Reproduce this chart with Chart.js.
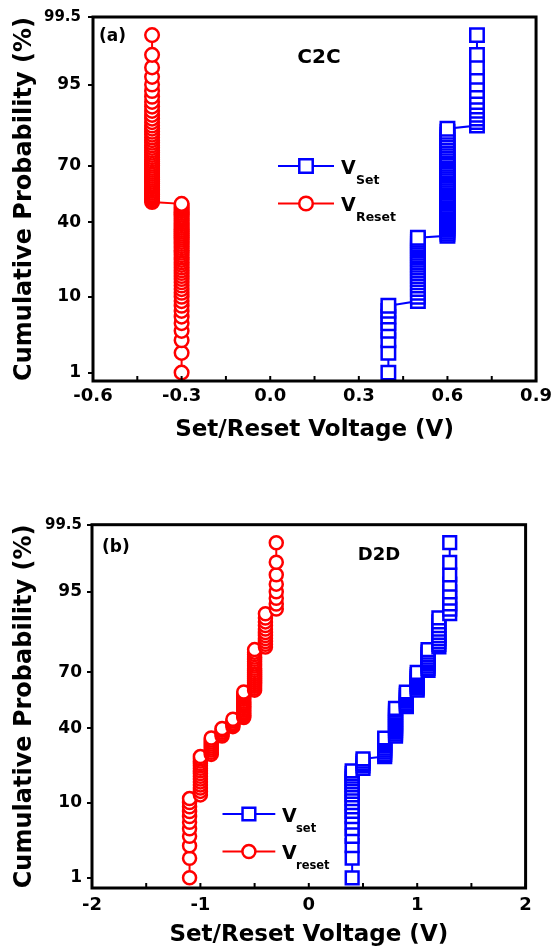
<!DOCTYPE html>
<html>
<head>
<meta charset="utf-8">
<script src="https://cdn.jsdelivr.net/npm/chart.js@4.4.1/dist/chart.umd.min.js"></script>
<style>
  html, body { margin: 0; padding: 0; background: #fff; }
  .panel { position: absolute; left: 0; width: 557px; height: 460px; }
  #panelA { top: 0; }
  #panelB { top: 490px; }
</style>
</head>
<body>
<div class="panel" id="panelA"><canvas id="chartA"></canvas></div>
<div class="panel" id="panelB"><canvas id="chartB"></canvas></div>
<script>
// cumulative probability (%) of each ranked point, same ranks for every series
const cumProb = [
  1,2,3,4,5,6,7,8,9,10,
  11,12,13,14,15,16,17,18,19,20,
  21,22,23,24,25,26,27,28,29,30,
  31,32,33,34,35,36,37,38,39,40,
  41,42,43,44,45,46,47,48,49,50,
  51,52,53,54,55,56,57,58,59,60,
  61,62,63,64,65,66,67,68,69,70,
  71,72,73,74,75,76,77,78,79,80,
  81,82,83,84,85,86,87,88,89,90,
  91,92,93,94,95,96,97,98,99
];

// (a) C2C - voltages (V), one per ranked point
const setA = [
  0.4,0.4,0.4,0.4,0.4,0.4,0.4,0.4,
  0.5,0.5,0.5,0.5,0.5,0.5,0.5,0.5,0.5,0.5,0.5,0.5,
  0.5,0.5,0.5,0.5,0.5,0.5,0.5,0.5,0.5,0.5,0.5,0.5,
  0.6,0.6,0.6,0.6,0.6,0.6,0.6,0.6,0.6,0.6,
  0.6,0.6,0.6,0.6,0.6,0.6,0.6,0.6,0.6,0.6,
  0.6,0.6,0.6,0.6,0.6,0.6,0.6,0.6,0.6,0.6,
  0.6,0.6,0.6,0.6,0.6,0.6,0.6,0.6,0.6,0.6,
  0.6,0.6,0.6,0.6,0.6,0.6,0.6,0.6,0.6,0.6,
  0.6,0.6,0.6,
  0.7,0.7,0.7,0.7,0.7,0.7,0.7,0.7,0.7,0.7,
  0.7,0.7,0.7,0.7
];
const resetA = [
  -0.3,-0.3,-0.3,-0.3,-0.3,-0.3,-0.3,-0.3,-0.3,-0.3,
  -0.3,-0.3,-0.3,-0.3,-0.3,-0.3,-0.3,-0.3,-0.3,-0.3,
  -0.3,-0.3,-0.3,-0.3,-0.3,-0.3,-0.3,-0.3,-0.3,-0.3,
  -0.3,-0.3,-0.3,-0.3,-0.3,-0.3,-0.3,-0.3,-0.3,-0.3,
  -0.3,-0.3,-0.3,-0.3,-0.3,-0.3,-0.3,-0.3,-0.3,-0.3,
  -0.4,-0.4,-0.4,-0.4,-0.4,-0.4,-0.4,-0.4,-0.4,-0.4,
  -0.4,-0.4,-0.4,-0.4,-0.4,-0.4,-0.4,-0.4,-0.4,-0.4,
  -0.4,-0.4,-0.4,-0.4,-0.4,-0.4,-0.4,-0.4,-0.4,-0.4,
  -0.4,-0.4,-0.4,-0.4,-0.4,-0.4,-0.4,-0.4,-0.4,-0.4,
  -0.4,-0.4,-0.4,-0.4,-0.4,-0.4,-0.4,-0.4,-0.4
];

// (b) D2D
const setB = [
  0.4,0.4,0.4,0.4,0.4,0.4,0.4,0.4,0.4,0.4,
  0.4,0.4,0.4,0.4,0.4,0.4,0.4,0.4,0.4,0.4,
  0.5,0.5,0.5,0.5,0.5,
  0.7,0.7,0.7,0.7,0.7,0.7,0.7,0.7,0.7,0.7,
  0.8,0.8,0.8,0.8,0.8,0.8,0.8,0.8,0.8,0.8,
  0.8,0.8,0.8,0.8,0.8,0.8,
  0.9,0.9,0.9,0.9,0.9,0.9,0.9,0.9,0.9,
  1.0,1.0,1.0,1.0,1.0,1.0,1.0,1.0,1.0,1.0,
  1.1,1.1,1.1,1.1,1.1,1.1,1.1,1.1,1.1,1.1,
  1.2,1.2,1.2,1.2,1.2,1.2,1.2,1.2,1.2,1.2,
  1.3,1.3,1.3,1.3,1.3,1.3,1.3,1.3,1.3
];
const resetB = [
  -1.1,-1.1,-1.1,-1.1,-1.1,-1.1,-1.1,-1.1,-1.1,-1.1,
  -1.1,
  -1.0,-1.0,-1.0,-1.0,-1.0,-1.0,-1.0,-1.0,-1.0,-1.0,
  -1.0,-1.0,-1.0,-1.0,-1.0,
  -0.9,-0.9,-0.9,-0.9,-0.9,-0.9,-0.9,-0.9,-0.9,
  -0.8,-0.8,-0.8,-0.8,-0.8,
  -0.7,-0.7,-0.7,-0.7,-0.7,
  -0.6,-0.6,-0.6,-0.6,-0.6,-0.6,-0.6,-0.6,-0.6,-0.6,
  -0.6,-0.6,-0.6,-0.6,-0.6,
  -0.5,-0.5,-0.5,-0.5,-0.5,-0.5,-0.5,-0.5,-0.5,-0.5,
  -0.5,-0.5,-0.5,-0.5,-0.5,-0.5,-0.5,-0.5,-0.5,-0.5,
  -0.4,-0.4,-0.4,-0.4,-0.4,-0.4,-0.4,-0.4,-0.4,-0.4,
  -0.4,
  -0.3,-0.3,-0.3,-0.3,-0.3,-0.3,-0.3,-0.3
];

// axes
const yTickVals = [1, 10, 40, 70, 95, 99.5];
const yTickLabels = ['1', '10', '40', '70', '95', '99.5'];
const xTicksA = [-0.6, -0.45, -0.3, -0.15, 0, 0.15, 0.3, 0.45, 0.6, 0.75, 0.9];
const xLabelsA = ['-0.6', '', '-0.3', '', '0.0', '', '0.3', '', '0.6', '', '0.9'];
const xTicksB = [-2, -1.5, -1, -0.5, 0, 0.5, 1, 1.5, 2];
const xLabelsB = ['-2', '', '-1', '', '0', '', '1', '', '2'];

const xTitle = 'Set/Reset Voltage (V)';
const yTitle = 'Cumulative Probability (%)';
const legendSubA = ['Set', 'Reset'];
const legendSubB = ['set', 'reset'];

const BLUE = '#0000ff';
const RED = '#ff0000';
const FONT = '"DejaVu Sans", "Liberation Sans", sans-serif';

// inverse of the standard normal CDF (Acklam) - gives the probability-paper axis
function probit(p) {
  const a = [-3.969683028665376e+01, 2.209460984245205e+02, -2.759285104469687e+02, 1.383577518672690e+02, -3.066479806614716e+01, 2.506628277459239e+00];
  const b = [-5.447609879822406e+01, 1.615858368580409e+02, -1.556989798598866e+02, 6.680131188771972e+01, -1.328068155288572e+01];
  const c = [-7.784894002430293e-03, -3.223964580411365e-01, -2.400758277161838e+00, -2.549732539343734e+00, 4.374664141464968e+00, 2.938163982698783e+00];
  const d = [7.784695709041462e-03, 3.224671290700398e-01, 2.445134137142996e+00, 3.754408661907416e+00];
  const pl = 0.02425;
  let q, r;
  if (p < pl) {
    q = Math.sqrt(-2 * Math.log(p));
    return (((((c[0]*q+c[1])*q+c[2])*q+c[3])*q+c[4])*q+c[5]) / ((((d[0]*q+d[1])*q+d[2])*q+d[3])*q+1);
  }
  if (p <= 1 - pl) {
    q = p - 0.5; r = q * q;
    return (((((a[0]*r+a[1])*r+a[2])*r+a[3])*r+a[4])*r+a[5])*q / (((((b[0]*r+b[1])*r+b[2])*r+b[3])*r+b[4])*r+1);
  }
  q = Math.sqrt(-2 * Math.log(1 - p));
  return -(((((c[0]*q+c[1])*q+c[2])*q+c[3])*q+c[4])*q+c[5]) / ((((d[0]*q+d[1])*q+d[2])*q+d[3])*q+1);
}

function toPoints(volts) {
  return volts.map((v, i) => ({ x: v, y: probit(cumProb[i] / 100) }));
}

function drawMarker(ctx, style, r, x, y) {
  ctx.beginPath();
  if (style === 'rect') {
    const s = Math.SQRT1_2 * r;
    ctx.rect(x - s, y - s, 2 * s, 2 * s);
  } else {
    ctx.arc(x, y, r, 0, Math.PI * 2);
  }
  ctx.fill();
  ctx.stroke();
}

// frame, inward x ticks, panel tag, title and the line+marker legend
const decor = {
  id: 'decor',
  afterDraw(chart, args, o) {
    const { ctx, chartArea: a } = chart;
    const xs = chart.scales.x;
    ctx.save();
    ctx.strokeStyle = '#000';
    ctx.lineWidth = 2;
    xs.ticks.forEach(t => {
      const px = xs.getPixelForValue(t.value);
      ctx.beginPath();
      ctx.moveTo(px, a.bottom);
      ctx.lineTo(px, a.bottom - 5);
      ctx.stroke();
    });
    ctx.lineWidth = 3;
    ctx.strokeRect(a.left, a.top, a.right - a.left, a.bottom - a.top);

    ctx.fillStyle = '#000';
    ctx.textBaseline = 'middle';
    ctx.textAlign = 'left';
    ctx.font = `bold ${o.tag.size}px ${FONT}`;
    ctx.fillText(o.tag.text, o.tag.x, o.tag.y);
    ctx.textAlign = 'center';
    ctx.font = `bold ${o.title.size}px ${FONT}`;
    ctx.fillText(o.title.text, o.title.x, o.title.y);

    const L = o.legend;
    chart.data.datasets.forEach((ds, i) => {
      const y = L.y[i];
      ctx.strokeStyle = ds.borderColor;
      ctx.lineWidth = ds.borderWidth;
      ctx.beginPath();
      ctx.moveTo(L.x0, y);
      ctx.lineTo(L.x1, y);
      ctx.stroke();
      ctx.fillStyle = '#fff';
      ctx.lineWidth = ds.pointBorderWidth;
      drawMarker(ctx, ds.pointStyle, ds.pointRadius, (L.x0 + L.x1) / 2, y);
      ctx.fillStyle = '#000';
      ctx.textBaseline = 'alphabetic';
      ctx.textAlign = 'left';
      ctx.font = `bold ${L.vSize}px ${FONT}`;
      ctx.fillText('V', L.vX, y + L.vDy);
      ctx.font = `bold ${L.subSize}px ${FONT}`;
      ctx.fillText(L.subs[i], L.subX, y + L.subDy);
    });
    ctx.restore();
  }
};

Chart.defaults.font.family = FONT;
Chart.defaults.font.weight = 'bold';
Chart.defaults.color = '#000';

function makePanel(canvasId, p) {
  const dsBase = {
    showLine: true,
    borderWidth: 2,
    pointBorderWidth: 2.5,
    pointBackgroundColor: '#fff',
    backgroundColor: '#fff',
    tension: 0,
    clip: false
  };
  return new Chart(document.getElementById(canvasId), {
    type: 'scatter',
    data: {
      datasets: [
        Object.assign({}, dsBase, {
          label: 'V' + p.legend.subs[0], data: toPoints(p.set),
          borderColor: BLUE, pointBorderColor: BLUE, pointStyle: 'rect', pointRadius: p.rectR
        }),
        Object.assign({}, dsBase, {
          label: 'V' + p.legend.subs[1], data: toPoints(p.reset),
          borderColor: RED, pointBorderColor: RED, pointStyle: 'circle', pointRadius: p.circR
        })
      ]
    },
    options: {
      animation: false,
      responsive: true,
      maintainAspectRatio: false,
      layout: { padding: { top: p.padTop, right: p.padRight, left: 0, bottom: 0 } },
      plugins: {
        legend: { display: false },
        tooltip: { enabled: false },
        decor: { tag: p.tag, title: p.title, legend: p.legend }
      },
      scales: {
        x: {
          type: 'linear',
          min: p.xTicks[0],
          max: p.xTicks[p.xTicks.length - 1],
          afterBuildTicks: s => { s.ticks = p.xTicks.map(v => ({ value: v })); },
          afterFit: s => { s.height = p.xAxisH; },
          grid: { display: false, drawTicks: false },
          border: { display: false },
          ticks: {
            autoSkip: false, maxRotation: 0, padding: p.xTickPad,
            font: { size: 18, weight: 'bold' },
            callback: (v, i) => p.xLabels[i]
          },
          title: {
            display: true, text: xTitle,
            font: { size: 23, weight: 'bold' },
            padding: { top: 0, bottom: p.xTitlePad }
          }
        },
        y: {
          type: 'linear',
          min: probit(p.yMinPct / 100),
          max: probit(yTickVals[yTickVals.length - 1] / 100),
          afterBuildTicks: s => { s.ticks = yTickVals.map(v => ({ value: probit(v / 100) })); },
          afterFit: s => { s.width = p.yAxisW; },
          grid: { display: true, drawOnChartArea: false, drawTicks: true, tickLength: 5, color: '#000', lineWidth: 2 },
          border: { display: false },
          ticks: {
            autoSkip: false, padding: p.yTickPad,
            font: c => ({ size: c.index === yTickVals.length - 1 ? 15 : 17, weight: 'bold' }),
            callback: (v, i) => yTickLabels[i]
          },
          title: {
            display: true, text: yTitle,
            font: { size: 24, weight: 'bold' },
            padding: { top: p.yTitlePad, bottom: 0 }
          }
        }
      }
    },
    plugins: [decor]
  });
}

makePanel('chartA', {
  set: setA, reset: resetA,
  xTicks: xTicksA, xLabels: xLabelsA, yMinPct: 0.73,
  padTop: 17, padRight: 14, yAxisW: 93, xAxisH: 79,
  yTitlePad: 10, yTickPad: 7, xTickPad: 5, xTitlePad: 16,
  rectR: 9.5, circR: 6.8,
  tag: { text: '(a)', x: 99, y: 37, size: 17 },
  title: { text: 'C2C', x: 319, y: 58, size: 20 },
  legend: { subs: legendSubA, x0: 278, x1: 334, y: [166, 203.5], vX: 341, vDy: 7.8, vSize: 19, subX: 356, subDy: 17.5, subSize: 12.5 }
});

makePanel('chartB', {
  set: setB, reset: resetB,
  xTicks: xTicksB, xLabels: xLabelsB, yMinPct: 0.68,
  padTop: 34.7, padRight: 31.4, yAxisW: 92, xAxisH: 62,
  yTitlePad: 10, yTickPad: 5, xTickPad: 7, xTitlePad: 1,
  rectR: 9, circR: 6.5,
  tag: { text: '(b)', x: 102, y: 57.5, size: 17 },
  title: { text: 'D2D', x: 379, y: 65, size: 18 },
  legend: { subs: legendSubB, x0: 222.5, x1: 275.3, y: [324, 361.5], vX: 282, vDy: 7.8, vSize: 19, subX: 296, subDy: 17.5, subSize: 11.5 }
});
</script>
</body>
</html>
